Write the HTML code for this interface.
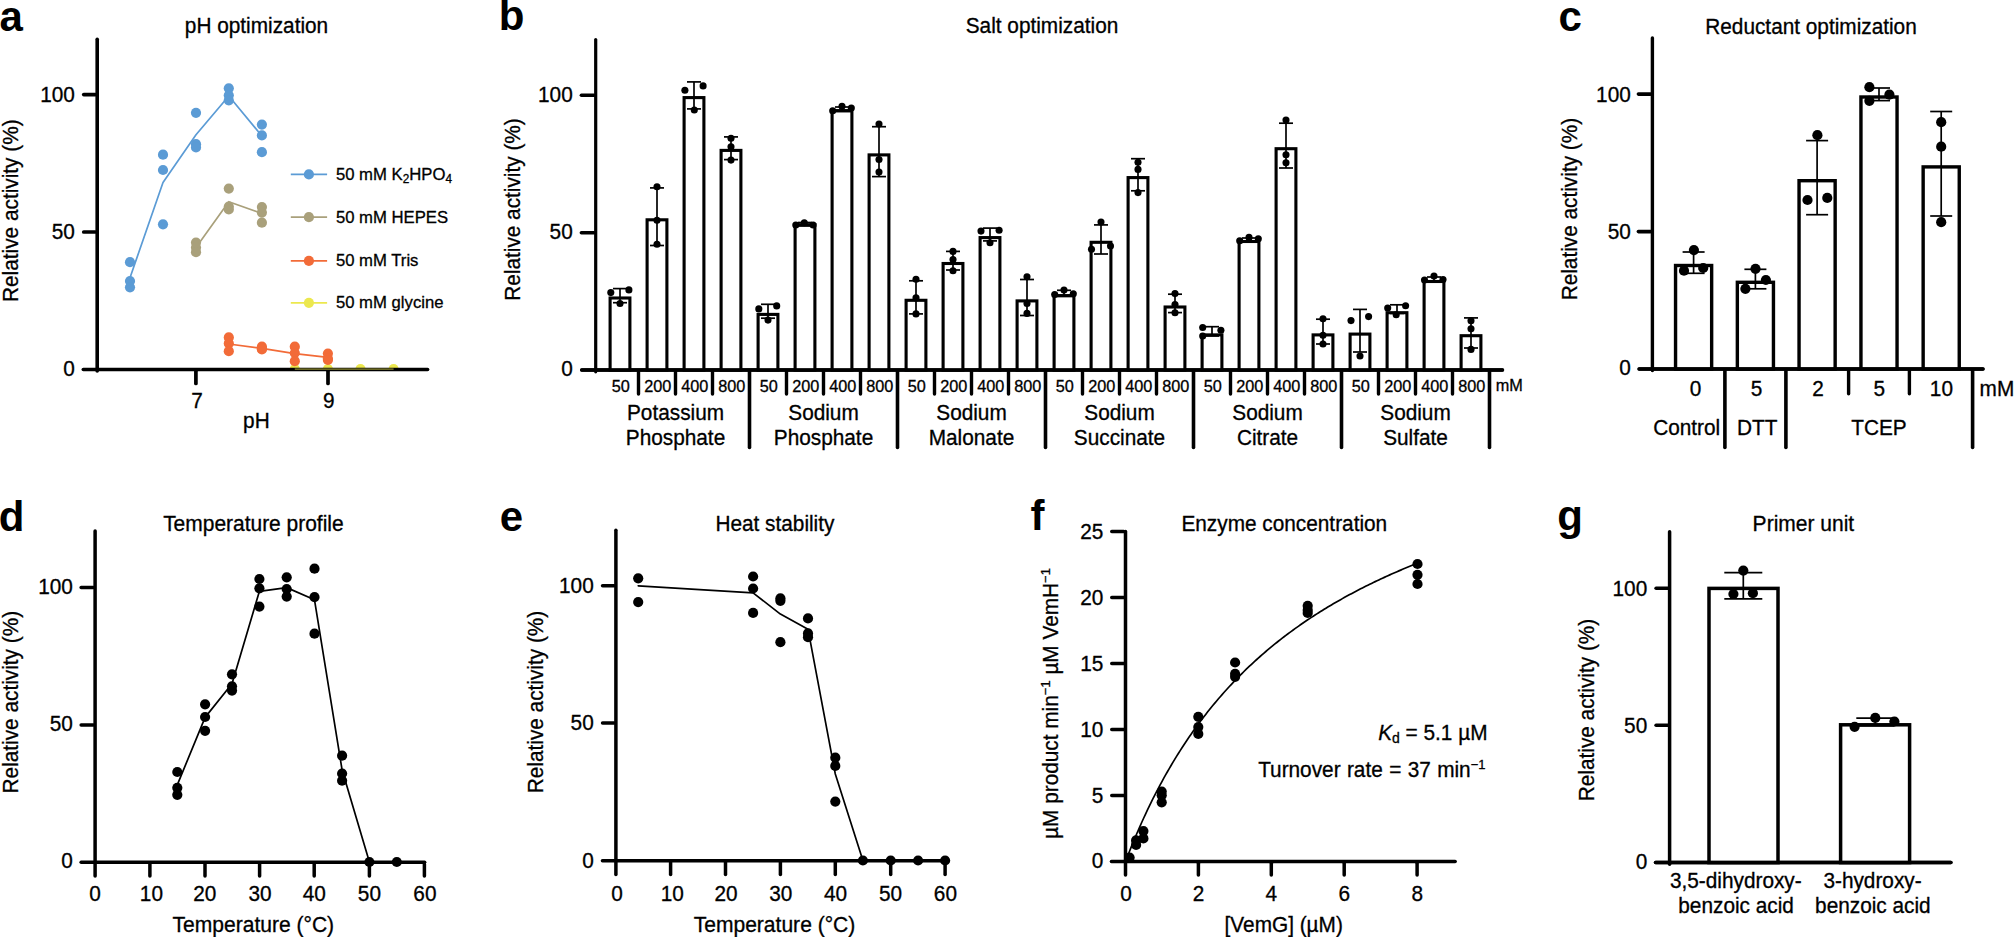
<!DOCTYPE html>
<html lang="en">
<head>
<meta charset="utf-8">
<title>Enzyme assay optimization</title>
<style>
html,body{margin:0;padding:0;background:#fff;}
body{width:2014px;height:937px;overflow:hidden;}
svg{display:block;}
svg text{font-family:"Liberation Sans",sans-serif;fill:#000;stroke:#000;stroke-width:0.3px;}
svg text.pl{stroke-width:0;}
</style>
</head>
<body>
<svg width="2014" height="937" viewBox="0 0 2014 937">
<rect width="2014" height="937" fill="#fff"/>
<g id="pa">
<clipPath id="cpa"><rect x="90" y="30" width="345" height="339.5"/></clipPath><g clip-path="url(#cpa)">
<polyline points="294.80,369.00 393.60,369.00" fill="none" stroke="#ece84e" stroke-width="1.7" stroke-linejoin="round" stroke-linecap="round"/>
<circle cx="294.80" cy="369.20" r="5.1" fill="#ece84e"/>
<circle cx="327.90" cy="369.20" r="5.1" fill="#ece84e"/>
<circle cx="360.50" cy="369.20" r="5.1" fill="#ece84e"/>
<circle cx="393.60" cy="369.20" r="5.1" fill="#ece84e"/>
</g>
<line x1="97.20" y1="39.30" x2="97.20" y2="371.00" stroke="#000" stroke-width="3.6" stroke-linecap="round"/>
<line x1="83.30" y1="369.50" x2="427.60" y2="369.50" stroke="#000" stroke-width="3.6" stroke-linecap="round"/>
<line x1="83.75" y1="94.60" x2="95.35" y2="94.60" stroke="#000" stroke-width="3.7" stroke-linecap="round"/>
<line x1="83.75" y1="232.00" x2="95.35" y2="232.00" stroke="#000" stroke-width="3.7" stroke-linecap="round"/>
<line x1="195.90" y1="371.35" x2="195.90" y2="383.45" stroke="#000" stroke-width="3.7" stroke-linecap="round"/>
<line x1="328.00" y1="371.35" x2="328.00" y2="383.45" stroke="#000" stroke-width="3.7" stroke-linecap="round"/>
<line x1="294.80" y1="369.20" x2="393.60" y2="369.20" stroke="#8c8a30" stroke-width="1.3" stroke-linecap="butt"/>
<text transform="translate(74.90,101.60) scale(1,1.02)" text-anchor="end" font-size="20.8">100</text>
<text transform="translate(74.90,239.00) scale(1,1.02)" text-anchor="end" font-size="20.8">50</text>
<text transform="translate(74.90,376.00) scale(1,1.02)" text-anchor="end" font-size="20.8">0</text>
<text transform="translate(197.00,407.70) scale(1,1.02)" text-anchor="middle" font-size="20.8">7</text>
<text transform="translate(328.90,407.70) scale(1,1.02)" text-anchor="middle" font-size="20.8">9</text>
<text transform="translate(256.40,427.80) scale(1,1.02)" text-anchor="middle" font-size="20.8">pH</text>
<text transform="translate(256.50,33.40) scale(1,1.02)" text-anchor="middle" font-size="20.8">pH optimization</text>
<text transform="translate(18.20,210.70) rotate(-90) scale(1,1.02)" text-anchor="middle" font-size="20.8">Relative activity (%)</text>
<text x="-0.60" y="30.60" font-size="42" font-weight="bold" class="pl">a</text>
<polyline points="130.00,277.70 163.00,182.50 196.00,134.80 228.80,96.00 261.90,136.00" fill="none" stroke="#5b9bd5" stroke-width="1.7" stroke-linejoin="round" stroke-linecap="round"/>
<circle cx="130.00" cy="262.20" r="5.1" fill="#5b9bd5"/>
<circle cx="130.00" cy="281.00" r="5.1" fill="#5b9bd5"/>
<circle cx="130.00" cy="287.30" r="5.1" fill="#5b9bd5"/>
<circle cx="163.00" cy="224.30" r="5.1" fill="#5b9bd5"/>
<circle cx="163.00" cy="154.70" r="5.1" fill="#5b9bd5"/>
<circle cx="163.00" cy="170.00" r="5.1" fill="#5b9bd5"/>
<circle cx="196.00" cy="112.80" r="5.1" fill="#5b9bd5"/>
<circle cx="196.00" cy="144.20" r="5.1" fill="#5b9bd5"/>
<circle cx="196.00" cy="147.40" r="5.1" fill="#5b9bd5"/>
<circle cx="228.80" cy="88.30" r="5.1" fill="#5b9bd5"/>
<circle cx="228.80" cy="95.30" r="5.1" fill="#5b9bd5"/>
<circle cx="228.80" cy="100.30" r="5.1" fill="#5b9bd5"/>
<circle cx="261.90" cy="124.60" r="5.1" fill="#5b9bd5"/>
<circle cx="261.90" cy="135.40" r="5.1" fill="#5b9bd5"/>
<circle cx="261.90" cy="152.20" r="5.1" fill="#5b9bd5"/>
<polyline points="196.00,247.50 228.80,201.70 261.90,213.50" fill="none" stroke="#a9a07b" stroke-width="1.7" stroke-linejoin="round" stroke-linecap="round"/>
<circle cx="196.00" cy="242.60" r="5.1" fill="#a9a07b"/>
<circle cx="196.00" cy="247.60" r="5.1" fill="#a9a07b"/>
<circle cx="196.00" cy="252.20" r="5.1" fill="#a9a07b"/>
<circle cx="228.80" cy="188.60" r="5.1" fill="#a9a07b"/>
<circle cx="228.80" cy="206.50" r="5.1" fill="#a9a07b"/>
<circle cx="228.80" cy="209.50" r="5.1" fill="#a9a07b"/>
<circle cx="261.90" cy="207.10" r="5.1" fill="#a9a07b"/>
<circle cx="261.90" cy="212.60" r="5.1" fill="#a9a07b"/>
<circle cx="261.90" cy="222.70" r="5.1" fill="#a9a07b"/>
<polyline points="228.80,344.00 261.90,348.30 294.80,353.60 327.90,357.30" fill="none" stroke="#f26b38" stroke-width="1.7" stroke-linejoin="round" stroke-linecap="round"/>
<circle cx="228.80" cy="337.40" r="5.1" fill="#f26b38"/>
<circle cx="228.80" cy="343.40" r="5.1" fill="#f26b38"/>
<circle cx="228.80" cy="351.20" r="5.1" fill="#f26b38"/>
<circle cx="261.90" cy="346.70" r="5.1" fill="#f26b38"/>
<circle cx="261.90" cy="348.70" r="5.1" fill="#f26b38"/>
<circle cx="261.90" cy="349.50" r="5.1" fill="#f26b38"/>
<circle cx="294.80" cy="346.70" r="5.1" fill="#f26b38"/>
<circle cx="294.80" cy="353.00" r="5.1" fill="#f26b38"/>
<circle cx="294.80" cy="361.20" r="5.1" fill="#f26b38"/>
<circle cx="327.90" cy="353.50" r="5.1" fill="#f26b38"/>
<circle cx="327.90" cy="358.50" r="5.1" fill="#f26b38"/>
<circle cx="327.90" cy="360.00" r="5.1" fill="#f26b38"/>
<line x1="290.80" y1="174.40" x2="327.10" y2="174.40" stroke="#5b9bd5" stroke-width="1.7" stroke-linecap="butt"/>
<circle cx="308.90" cy="174.40" r="5.1" fill="#5b9bd5"/>
<text transform="translate(335.90,179.70) scale(1,1.02)" text-anchor="start" font-size="16.7">50 mM K<tspan font-size="11.8" dy="3.6">2</tspan><tspan dy="-3.6">HPO</tspan><tspan font-size="11.8" dy="3.6">4</tspan></text>
<line x1="290.80" y1="217.20" x2="327.10" y2="217.20" stroke="#a9a07b" stroke-width="1.7" stroke-linecap="butt"/>
<circle cx="308.90" cy="217.20" r="5.1" fill="#a9a07b"/>
<text transform="translate(335.90,222.50) scale(1,1.02)" text-anchor="start" font-size="16.7">50 mM HEPES</text>
<line x1="290.80" y1="260.90" x2="327.10" y2="260.90" stroke="#f26b38" stroke-width="1.7" stroke-linecap="butt"/>
<circle cx="308.90" cy="260.90" r="5.1" fill="#f26b38"/>
<text transform="translate(335.90,266.20) scale(1,1.02)" text-anchor="start" font-size="16.7">50 mM Tris</text>
<line x1="290.80" y1="302.80" x2="327.10" y2="302.80" stroke="#ece84e" stroke-width="1.7" stroke-linecap="butt"/>
<circle cx="308.90" cy="302.80" r="5.1" fill="#ece84e"/>
<text transform="translate(335.90,308.10) scale(1,1.02)" text-anchor="start" font-size="16.7">50 mM glycine</text>
</g>
<g id="pb">
<line x1="595.70" y1="39.50" x2="595.70" y2="371.80" stroke="#000" stroke-width="3.2" stroke-linecap="round"/>
<line x1="581.75" y1="370.10" x2="1502.45" y2="370.10" stroke="#000" stroke-width="3.5" stroke-linecap="round"/>
<line x1="581.40" y1="95.20" x2="593.90" y2="95.20" stroke="#000" stroke-width="3.6" stroke-linecap="round"/>
<line x1="581.40" y1="232.70" x2="593.90" y2="232.70" stroke="#000" stroke-width="3.6" stroke-linecap="round"/>
<text transform="translate(572.70,101.50) scale(1,1.02)" text-anchor="end" font-size="20.8">100</text>
<text transform="translate(572.70,239.00) scale(1,1.02)" text-anchor="end" font-size="20.8">50</text>
<text transform="translate(572.70,375.90) scale(1,1.02)" text-anchor="end" font-size="20.8">0</text>
<text transform="translate(1042.00,32.90) scale(1,1.02)" text-anchor="middle" font-size="20.8">Salt optimization</text>
<text transform="translate(519.90,209.50) rotate(-90) scale(1,1.02)" text-anchor="middle" font-size="20.8">Relative activity (%)</text>
<text x="498.80" y="30.00" font-size="42" font-weight="bold" class="pl">b</text>
<rect x="610.10" y="298.00" width="19.8" height="72.10" fill="#fff" stroke="#000" stroke-width="3.1"/>
<rect x="647.10" y="219.80" width="19.8" height="150.30" fill="#fff" stroke="#000" stroke-width="3.1"/>
<rect x="684.10" y="97.60" width="19.8" height="272.50" fill="#fff" stroke="#000" stroke-width="3.1"/>
<rect x="721.10" y="150.40" width="19.8" height="219.70" fill="#fff" stroke="#000" stroke-width="3.1"/>
<rect x="758.10" y="314.40" width="19.8" height="55.70" fill="#fff" stroke="#000" stroke-width="3.1"/>
<rect x="795.10" y="224.70" width="19.8" height="145.40" fill="#fff" stroke="#000" stroke-width="3.1"/>
<rect x="832.10" y="110.90" width="19.8" height="259.20" fill="#fff" stroke="#000" stroke-width="3.1"/>
<rect x="869.10" y="154.90" width="19.8" height="215.20" fill="#fff" stroke="#000" stroke-width="3.1"/>
<rect x="906.10" y="300.30" width="19.8" height="69.80" fill="#fff" stroke="#000" stroke-width="3.1"/>
<rect x="943.10" y="263.50" width="19.8" height="106.60" fill="#fff" stroke="#000" stroke-width="3.1"/>
<rect x="980.10" y="237.60" width="19.8" height="132.50" fill="#fff" stroke="#000" stroke-width="3.1"/>
<rect x="1017.10" y="300.90" width="19.8" height="69.20" fill="#fff" stroke="#000" stroke-width="3.1"/>
<rect x="1054.10" y="295.80" width="19.8" height="74.30" fill="#fff" stroke="#000" stroke-width="3.1"/>
<rect x="1091.10" y="242.30" width="19.8" height="127.80" fill="#fff" stroke="#000" stroke-width="3.1"/>
<rect x="1128.10" y="177.60" width="19.8" height="192.50" fill="#fff" stroke="#000" stroke-width="3.1"/>
<rect x="1165.10" y="307.00" width="19.8" height="63.10" fill="#fff" stroke="#000" stroke-width="3.1"/>
<rect x="1202.10" y="334.90" width="19.8" height="35.20" fill="#fff" stroke="#000" stroke-width="3.1"/>
<rect x="1239.10" y="241.50" width="19.8" height="128.60" fill="#fff" stroke="#000" stroke-width="3.1"/>
<rect x="1276.10" y="148.70" width="19.8" height="221.40" fill="#fff" stroke="#000" stroke-width="3.1"/>
<rect x="1313.10" y="334.90" width="19.8" height="35.20" fill="#fff" stroke="#000" stroke-width="3.1"/>
<rect x="1350.10" y="334.10" width="19.8" height="36.00" fill="#fff" stroke="#000" stroke-width="3.1"/>
<rect x="1387.10" y="312.70" width="19.8" height="57.40" fill="#fff" stroke="#000" stroke-width="3.1"/>
<rect x="1424.10" y="281.50" width="19.8" height="88.60" fill="#fff" stroke="#000" stroke-width="3.1"/>
<rect x="1461.10" y="335.70" width="19.8" height="34.40" fill="#fff" stroke="#000" stroke-width="3.1"/>
<line x1="620.00" y1="288.60" x2="620.00" y2="302.70" stroke="#000" stroke-width="1.7" stroke-linecap="butt"/>
<line x1="613.00" y1="288.60" x2="627.00" y2="288.60" stroke="#000" stroke-width="1.7" stroke-linecap="butt"/>
<line x1="613.00" y1="302.70" x2="627.00" y2="302.70" stroke="#000" stroke-width="1.7" stroke-linecap="butt"/>
<circle cx="610.80" cy="292.60" r="3.55" fill="#000"/>
<circle cx="628.90" cy="289.90" r="3.55" fill="#000"/>
<circle cx="620.00" cy="303.50" r="3.55" fill="#000"/>
<text transform="translate(620.80,391.60) scale(1,0.98)" text-anchor="middle" font-size="16.3">50</text>
<line x1="638.50" y1="371.80" x2="638.50" y2="394.00" stroke="#000" stroke-width="3.4" stroke-linecap="round"/>
<line x1="657.00" y1="187.90" x2="657.00" y2="245.50" stroke="#000" stroke-width="1.7" stroke-linecap="butt"/>
<line x1="650.00" y1="187.90" x2="664.00" y2="187.90" stroke="#000" stroke-width="1.7" stroke-linecap="butt"/>
<line x1="650.00" y1="245.50" x2="664.00" y2="245.50" stroke="#000" stroke-width="1.7" stroke-linecap="butt"/>
<circle cx="657.00" cy="186.80" r="3.55" fill="#000"/>
<circle cx="657.00" cy="220.20" r="3.55" fill="#000"/>
<circle cx="657.00" cy="244.20" r="3.55" fill="#000"/>
<text transform="translate(657.80,391.60) scale(1,0.98)" text-anchor="middle" font-size="16.3">200</text>
<line x1="675.50" y1="371.80" x2="675.50" y2="394.00" stroke="#000" stroke-width="3.4" stroke-linecap="round"/>
<line x1="694.00" y1="81.90" x2="694.00" y2="108.90" stroke="#000" stroke-width="1.7" stroke-linecap="butt"/>
<line x1="687.00" y1="81.90" x2="701.00" y2="81.90" stroke="#000" stroke-width="1.7" stroke-linecap="butt"/>
<line x1="687.00" y1="108.90" x2="701.00" y2="108.90" stroke="#000" stroke-width="1.7" stroke-linecap="butt"/>
<circle cx="684.90" cy="90.20" r="3.55" fill="#000"/>
<circle cx="703.10" cy="85.90" r="3.55" fill="#000"/>
<circle cx="694.30" cy="110.00" r="3.55" fill="#000"/>
<text transform="translate(694.80,391.60) scale(1,0.98)" text-anchor="middle" font-size="16.3">400</text>
<line x1="712.50" y1="371.80" x2="712.50" y2="394.00" stroke="#000" stroke-width="3.4" stroke-linecap="round"/>
<line x1="731.00" y1="136.90" x2="731.00" y2="159.60" stroke="#000" stroke-width="1.7" stroke-linecap="butt"/>
<line x1="724.00" y1="136.90" x2="738.00" y2="136.90" stroke="#000" stroke-width="1.7" stroke-linecap="butt"/>
<line x1="724.00" y1="159.60" x2="738.00" y2="159.60" stroke="#000" stroke-width="1.7" stroke-linecap="butt"/>
<circle cx="731.00" cy="138.20" r="3.55" fill="#000"/>
<circle cx="731.00" cy="146.80" r="3.55" fill="#000"/>
<circle cx="731.00" cy="160.10" r="3.55" fill="#000"/>
<text transform="translate(731.80,391.60) scale(1,0.98)" text-anchor="middle" font-size="16.3">800</text>
<line x1="749.50" y1="371.90" x2="749.50" y2="447.50" stroke="#000" stroke-width="3.6" stroke-linecap="round"/>
<line x1="768.00" y1="304.30" x2="768.00" y2="318.20" stroke="#000" stroke-width="1.7" stroke-linecap="butt"/>
<line x1="761.00" y1="304.30" x2="775.00" y2="304.30" stroke="#000" stroke-width="1.7" stroke-linecap="butt"/>
<line x1="761.00" y1="318.20" x2="775.00" y2="318.20" stroke="#000" stroke-width="1.7" stroke-linecap="butt"/>
<circle cx="758.80" cy="308.90" r="3.55" fill="#000"/>
<circle cx="776.70" cy="305.90" r="3.55" fill="#000"/>
<circle cx="768.00" cy="320.10" r="3.55" fill="#000"/>
<text transform="translate(768.80,391.60) scale(1,0.98)" text-anchor="middle" font-size="16.3">50</text>
<line x1="786.50" y1="371.80" x2="786.50" y2="394.00" stroke="#000" stroke-width="3.4" stroke-linecap="round"/>
<line x1="805.00" y1="222.50" x2="805.00" y2="226.00" stroke="#000" stroke-width="1.7" stroke-linecap="butt"/>
<line x1="798.00" y1="222.50" x2="812.00" y2="222.50" stroke="#000" stroke-width="1.7" stroke-linecap="butt"/>
<line x1="798.00" y1="226.00" x2="812.00" y2="226.00" stroke="#000" stroke-width="1.7" stroke-linecap="butt"/>
<circle cx="795.80" cy="225.00" r="3.55" fill="#000"/>
<circle cx="804.30" cy="222.80" r="3.55" fill="#000"/>
<circle cx="813.10" cy="225.00" r="3.55" fill="#000"/>
<text transform="translate(805.80,391.60) scale(1,0.98)" text-anchor="middle" font-size="16.3">200</text>
<line x1="823.50" y1="371.80" x2="823.50" y2="394.00" stroke="#000" stroke-width="3.4" stroke-linecap="round"/>
<line x1="842.00" y1="107.00" x2="842.00" y2="110.00" stroke="#000" stroke-width="1.7" stroke-linecap="butt"/>
<line x1="835.00" y1="107.00" x2="849.00" y2="107.00" stroke="#000" stroke-width="1.7" stroke-linecap="butt"/>
<line x1="835.00" y1="110.00" x2="849.00" y2="110.00" stroke="#000" stroke-width="1.7" stroke-linecap="butt"/>
<circle cx="832.70" cy="110.70" r="3.55" fill="#000"/>
<circle cx="842.00" cy="106.20" r="3.55" fill="#000"/>
<circle cx="851.30" cy="108.00" r="3.55" fill="#000"/>
<text transform="translate(842.80,391.60) scale(1,0.98)" text-anchor="middle" font-size="16.3">400</text>
<line x1="860.50" y1="371.80" x2="860.50" y2="394.00" stroke="#000" stroke-width="3.4" stroke-linecap="round"/>
<line x1="879.00" y1="126.70" x2="879.00" y2="176.60" stroke="#000" stroke-width="1.7" stroke-linecap="butt"/>
<line x1="872.00" y1="126.70" x2="886.00" y2="126.70" stroke="#000" stroke-width="1.7" stroke-linecap="butt"/>
<line x1="872.00" y1="176.60" x2="886.00" y2="176.60" stroke="#000" stroke-width="1.7" stroke-linecap="butt"/>
<circle cx="879.00" cy="124.00" r="3.55" fill="#000"/>
<circle cx="879.00" cy="159.50" r="3.55" fill="#000"/>
<circle cx="879.00" cy="172.10" r="3.55" fill="#000"/>
<text transform="translate(879.80,391.60) scale(1,0.98)" text-anchor="middle" font-size="16.3">800</text>
<line x1="897.50" y1="371.90" x2="897.50" y2="447.50" stroke="#000" stroke-width="3.6" stroke-linecap="round"/>
<line x1="916.00" y1="280.80" x2="916.00" y2="313.90" stroke="#000" stroke-width="1.7" stroke-linecap="butt"/>
<line x1="909.00" y1="280.80" x2="923.00" y2="280.80" stroke="#000" stroke-width="1.7" stroke-linecap="butt"/>
<line x1="909.00" y1="313.90" x2="923.00" y2="313.90" stroke="#000" stroke-width="1.7" stroke-linecap="butt"/>
<circle cx="916.00" cy="279.20" r="3.55" fill="#000"/>
<circle cx="916.00" cy="297.90" r="3.55" fill="#000"/>
<circle cx="916.00" cy="313.90" r="3.55" fill="#000"/>
<text transform="translate(916.80,391.60) scale(1,0.98)" text-anchor="middle" font-size="16.3">50</text>
<line x1="934.50" y1="371.80" x2="934.50" y2="394.00" stroke="#000" stroke-width="3.4" stroke-linecap="round"/>
<line x1="953.00" y1="251.40" x2="953.00" y2="270.00" stroke="#000" stroke-width="1.7" stroke-linecap="butt"/>
<line x1="946.00" y1="251.40" x2="960.00" y2="251.40" stroke="#000" stroke-width="1.7" stroke-linecap="butt"/>
<line x1="946.00" y1="270.00" x2="960.00" y2="270.00" stroke="#000" stroke-width="1.7" stroke-linecap="butt"/>
<circle cx="953.00" cy="251.40" r="3.55" fill="#000"/>
<circle cx="953.00" cy="259.60" r="3.55" fill="#000"/>
<circle cx="953.00" cy="270.80" r="3.55" fill="#000"/>
<text transform="translate(953.80,391.60) scale(1,0.98)" text-anchor="middle" font-size="16.3">200</text>
<line x1="971.50" y1="371.80" x2="971.50" y2="394.00" stroke="#000" stroke-width="3.4" stroke-linecap="round"/>
<line x1="990.00" y1="228.10" x2="990.00" y2="240.90" stroke="#000" stroke-width="1.7" stroke-linecap="butt"/>
<line x1="983.00" y1="228.10" x2="997.00" y2="228.10" stroke="#000" stroke-width="1.7" stroke-linecap="butt"/>
<line x1="983.00" y1="240.90" x2="997.00" y2="240.90" stroke="#000" stroke-width="1.7" stroke-linecap="butt"/>
<circle cx="981.00" cy="231.10" r="3.55" fill="#000"/>
<circle cx="999.10" cy="230.30" r="3.55" fill="#000"/>
<circle cx="990.00" cy="242.80" r="3.55" fill="#000"/>
<text transform="translate(990.80,391.60) scale(1,0.98)" text-anchor="middle" font-size="16.3">400</text>
<line x1="1008.50" y1="371.80" x2="1008.50" y2="394.00" stroke="#000" stroke-width="3.4" stroke-linecap="round"/>
<line x1="1027.00" y1="279.50" x2="1027.00" y2="315.50" stroke="#000" stroke-width="1.7" stroke-linecap="butt"/>
<line x1="1020.00" y1="279.50" x2="1034.00" y2="279.50" stroke="#000" stroke-width="1.7" stroke-linecap="butt"/>
<line x1="1020.00" y1="315.50" x2="1034.00" y2="315.50" stroke="#000" stroke-width="1.7" stroke-linecap="butt"/>
<circle cx="1027.00" cy="276.80" r="3.55" fill="#000"/>
<circle cx="1027.00" cy="303.50" r="3.55" fill="#000"/>
<circle cx="1027.00" cy="313.40" r="3.55" fill="#000"/>
<text transform="translate(1027.80,391.60) scale(1,0.98)" text-anchor="middle" font-size="16.3">800</text>
<line x1="1045.50" y1="371.90" x2="1045.50" y2="447.50" stroke="#000" stroke-width="3.6" stroke-linecap="round"/>
<line x1="1064.00" y1="290.30" x2="1064.00" y2="295.00" stroke="#000" stroke-width="1.7" stroke-linecap="butt"/>
<line x1="1057.00" y1="290.30" x2="1071.00" y2="290.30" stroke="#000" stroke-width="1.7" stroke-linecap="butt"/>
<line x1="1057.00" y1="295.00" x2="1071.00" y2="295.00" stroke="#000" stroke-width="1.7" stroke-linecap="butt"/>
<circle cx="1054.70" cy="294.50" r="3.55" fill="#000"/>
<circle cx="1064.00" cy="290.10" r="3.55" fill="#000"/>
<circle cx="1073.30" cy="293.70" r="3.55" fill="#000"/>
<text transform="translate(1064.80,391.60) scale(1,0.98)" text-anchor="middle" font-size="16.3">50</text>
<line x1="1082.50" y1="371.80" x2="1082.50" y2="394.00" stroke="#000" stroke-width="3.4" stroke-linecap="round"/>
<line x1="1101.00" y1="224.90" x2="1101.00" y2="254.00" stroke="#000" stroke-width="1.7" stroke-linecap="butt"/>
<line x1="1094.00" y1="224.90" x2="1108.00" y2="224.90" stroke="#000" stroke-width="1.7" stroke-linecap="butt"/>
<line x1="1094.00" y1="254.00" x2="1108.00" y2="254.00" stroke="#000" stroke-width="1.7" stroke-linecap="butt"/>
<circle cx="1101.00" cy="222.00" r="3.55" fill="#000"/>
<circle cx="1091.50" cy="249.20" r="3.55" fill="#000"/>
<circle cx="1110.50" cy="246.00" r="3.55" fill="#000"/>
<text transform="translate(1101.80,391.60) scale(1,0.98)" text-anchor="middle" font-size="16.3">200</text>
<line x1="1119.50" y1="371.80" x2="1119.50" y2="394.00" stroke="#000" stroke-width="3.4" stroke-linecap="round"/>
<line x1="1138.00" y1="158.70" x2="1138.00" y2="190.80" stroke="#000" stroke-width="1.7" stroke-linecap="butt"/>
<line x1="1131.00" y1="158.70" x2="1145.00" y2="158.70" stroke="#000" stroke-width="1.7" stroke-linecap="butt"/>
<line x1="1131.00" y1="190.80" x2="1145.00" y2="190.80" stroke="#000" stroke-width="1.7" stroke-linecap="butt"/>
<circle cx="1138.00" cy="162.20" r="3.55" fill="#000"/>
<circle cx="1138.00" cy="169.40" r="3.55" fill="#000"/>
<circle cx="1138.00" cy="192.60" r="3.55" fill="#000"/>
<text transform="translate(1138.80,391.60) scale(1,0.98)" text-anchor="middle" font-size="16.3">400</text>
<line x1="1156.50" y1="371.80" x2="1156.50" y2="394.00" stroke="#000" stroke-width="3.4" stroke-linecap="round"/>
<line x1="1175.00" y1="294.20" x2="1175.00" y2="312.60" stroke="#000" stroke-width="1.7" stroke-linecap="butt"/>
<line x1="1168.00" y1="294.20" x2="1182.00" y2="294.20" stroke="#000" stroke-width="1.7" stroke-linecap="butt"/>
<line x1="1168.00" y1="312.60" x2="1182.00" y2="312.60" stroke="#000" stroke-width="1.7" stroke-linecap="butt"/>
<circle cx="1175.00" cy="293.60" r="3.55" fill="#000"/>
<circle cx="1175.00" cy="304.50" r="3.55" fill="#000"/>
<circle cx="1175.00" cy="312.80" r="3.55" fill="#000"/>
<text transform="translate(1175.80,391.60) scale(1,0.98)" text-anchor="middle" font-size="16.3">800</text>
<line x1="1193.50" y1="371.90" x2="1193.50" y2="447.50" stroke="#000" stroke-width="3.6" stroke-linecap="round"/>
<line x1="1212.00" y1="326.70" x2="1212.00" y2="336.00" stroke="#000" stroke-width="1.7" stroke-linecap="butt"/>
<line x1="1205.00" y1="326.70" x2="1219.00" y2="326.70" stroke="#000" stroke-width="1.7" stroke-linecap="butt"/>
<line x1="1205.00" y1="336.00" x2="1219.00" y2="336.00" stroke="#000" stroke-width="1.7" stroke-linecap="butt"/>
<circle cx="1202.70" cy="327.50" r="3.55" fill="#000"/>
<circle cx="1220.90" cy="330.20" r="3.55" fill="#000"/>
<circle cx="1202.70" cy="336.00" r="3.55" fill="#000"/>
<text transform="translate(1212.80,391.60) scale(1,0.98)" text-anchor="middle" font-size="16.3">50</text>
<line x1="1230.50" y1="371.80" x2="1230.50" y2="394.00" stroke="#000" stroke-width="3.4" stroke-linecap="round"/>
<line x1="1249.00" y1="238.00" x2="1249.00" y2="241.00" stroke="#000" stroke-width="1.7" stroke-linecap="butt"/>
<line x1="1242.00" y1="238.00" x2="1256.00" y2="238.00" stroke="#000" stroke-width="1.7" stroke-linecap="butt"/>
<line x1="1242.00" y1="241.00" x2="1256.00" y2="241.00" stroke="#000" stroke-width="1.7" stroke-linecap="butt"/>
<circle cx="1239.70" cy="240.80" r="3.55" fill="#000"/>
<circle cx="1249.00" cy="237.40" r="3.55" fill="#000"/>
<circle cx="1258.30" cy="238.70" r="3.55" fill="#000"/>
<text transform="translate(1249.80,391.60) scale(1,0.98)" text-anchor="middle" font-size="16.3">200</text>
<line x1="1267.50" y1="371.80" x2="1267.50" y2="394.00" stroke="#000" stroke-width="3.4" stroke-linecap="round"/>
<line x1="1286.00" y1="123.20" x2="1286.00" y2="168.00" stroke="#000" stroke-width="1.7" stroke-linecap="butt"/>
<line x1="1279.00" y1="123.20" x2="1293.00" y2="123.20" stroke="#000" stroke-width="1.7" stroke-linecap="butt"/>
<line x1="1279.00" y1="168.00" x2="1293.00" y2="168.00" stroke="#000" stroke-width="1.7" stroke-linecap="butt"/>
<circle cx="1286.00" cy="120.00" r="3.55" fill="#000"/>
<circle cx="1286.00" cy="154.70" r="3.55" fill="#000"/>
<circle cx="1286.00" cy="162.70" r="3.55" fill="#000"/>
<text transform="translate(1286.80,391.60) scale(1,0.98)" text-anchor="middle" font-size="16.3">400</text>
<line x1="1304.50" y1="371.80" x2="1304.50" y2="394.00" stroke="#000" stroke-width="3.4" stroke-linecap="round"/>
<line x1="1323.00" y1="319.20" x2="1323.00" y2="344.00" stroke="#000" stroke-width="1.7" stroke-linecap="butt"/>
<line x1="1316.00" y1="319.20" x2="1330.00" y2="319.20" stroke="#000" stroke-width="1.7" stroke-linecap="butt"/>
<line x1="1316.00" y1="344.00" x2="1330.00" y2="344.00" stroke="#000" stroke-width="1.7" stroke-linecap="butt"/>
<circle cx="1323.00" cy="318.70" r="3.55" fill="#000"/>
<circle cx="1323.00" cy="335.20" r="3.55" fill="#000"/>
<circle cx="1323.00" cy="344.00" r="3.55" fill="#000"/>
<text transform="translate(1323.80,391.60) scale(1,0.98)" text-anchor="middle" font-size="16.3">800</text>
<line x1="1341.50" y1="371.90" x2="1341.50" y2="447.50" stroke="#000" stroke-width="3.6" stroke-linecap="round"/>
<line x1="1360.00" y1="309.40" x2="1360.00" y2="352.00" stroke="#000" stroke-width="1.7" stroke-linecap="butt"/>
<line x1="1353.00" y1="309.40" x2="1367.00" y2="309.40" stroke="#000" stroke-width="1.7" stroke-linecap="butt"/>
<line x1="1353.00" y1="352.00" x2="1367.00" y2="352.00" stroke="#000" stroke-width="1.7" stroke-linecap="butt"/>
<circle cx="1351.00" cy="320.60" r="3.55" fill="#000"/>
<circle cx="1368.60" cy="316.60" r="3.55" fill="#000"/>
<circle cx="1360.00" cy="356.00" r="3.55" fill="#000"/>
<text transform="translate(1360.80,391.60) scale(1,0.98)" text-anchor="middle" font-size="16.3">50</text>
<line x1="1378.50" y1="371.80" x2="1378.50" y2="394.00" stroke="#000" stroke-width="3.4" stroke-linecap="round"/>
<line x1="1397.00" y1="304.80" x2="1397.00" y2="313.40" stroke="#000" stroke-width="1.7" stroke-linecap="butt"/>
<line x1="1390.00" y1="304.80" x2="1404.00" y2="304.80" stroke="#000" stroke-width="1.7" stroke-linecap="butt"/>
<line x1="1390.00" y1="313.40" x2="1404.00" y2="313.40" stroke="#000" stroke-width="1.7" stroke-linecap="butt"/>
<circle cx="1387.70" cy="308.00" r="3.55" fill="#000"/>
<circle cx="1405.60" cy="305.70" r="3.55" fill="#000"/>
<circle cx="1396.20" cy="314.70" r="3.55" fill="#000"/>
<text transform="translate(1397.80,391.60) scale(1,0.98)" text-anchor="middle" font-size="16.3">200</text>
<line x1="1415.50" y1="371.80" x2="1415.50" y2="394.00" stroke="#000" stroke-width="3.4" stroke-linecap="round"/>
<line x1="1434.00" y1="277.00" x2="1434.00" y2="281.00" stroke="#000" stroke-width="1.7" stroke-linecap="butt"/>
<line x1="1427.00" y1="277.00" x2="1441.00" y2="277.00" stroke="#000" stroke-width="1.7" stroke-linecap="butt"/>
<line x1="1427.00" y1="281.00" x2="1441.00" y2="281.00" stroke="#000" stroke-width="1.7" stroke-linecap="butt"/>
<circle cx="1424.50" cy="280.00" r="3.55" fill="#000"/>
<circle cx="1434.00" cy="276.00" r="3.55" fill="#000"/>
<circle cx="1443.00" cy="279.50" r="3.55" fill="#000"/>
<text transform="translate(1434.80,391.60) scale(1,0.98)" text-anchor="middle" font-size="16.3">400</text>
<line x1="1452.50" y1="371.80" x2="1452.50" y2="394.00" stroke="#000" stroke-width="3.4" stroke-linecap="round"/>
<line x1="1471.00" y1="317.90" x2="1471.00" y2="348.00" stroke="#000" stroke-width="1.7" stroke-linecap="butt"/>
<line x1="1464.00" y1="317.90" x2="1478.00" y2="317.90" stroke="#000" stroke-width="1.7" stroke-linecap="butt"/>
<line x1="1464.00" y1="348.00" x2="1478.00" y2="348.00" stroke="#000" stroke-width="1.7" stroke-linecap="butt"/>
<circle cx="1471.00" cy="320.80" r="3.55" fill="#000"/>
<circle cx="1471.00" cy="328.80" r="3.55" fill="#000"/>
<circle cx="1471.00" cy="349.40" r="3.55" fill="#000"/>
<text transform="translate(1471.80,391.60) scale(1,0.98)" text-anchor="middle" font-size="16.3">800</text>
<line x1="1489.50" y1="371.90" x2="1489.50" y2="447.50" stroke="#000" stroke-width="3.6" stroke-linecap="round"/>
<line x1="581.75" y1="370.10" x2="1502.45" y2="370.10" stroke="#000" stroke-width="3.5" stroke-linecap="round"/>
<text transform="translate(1495.80,391.40) scale(1,0.98)" text-anchor="start" font-size="16.3">mM</text>
<text transform="translate(675.50,420.30) scale(1,1.02)" text-anchor="middle" font-size="20.8">Potassium</text>
<text transform="translate(675.50,444.90) scale(1,1.02)" text-anchor="middle" font-size="20.8">Phosphate</text>
<text transform="translate(823.50,420.30) scale(1,1.02)" text-anchor="middle" font-size="20.8">Sodium</text>
<text transform="translate(823.50,444.90) scale(1,1.02)" text-anchor="middle" font-size="20.8">Phosphate</text>
<text transform="translate(971.50,420.30) scale(1,1.02)" text-anchor="middle" font-size="20.8">Sodium</text>
<text transform="translate(971.50,444.90) scale(1,1.02)" text-anchor="middle" font-size="20.8">Malonate</text>
<text transform="translate(1119.50,420.30) scale(1,1.02)" text-anchor="middle" font-size="20.8">Sodium</text>
<text transform="translate(1119.50,444.90) scale(1,1.02)" text-anchor="middle" font-size="20.8">Succinate</text>
<text transform="translate(1267.50,420.30) scale(1,1.02)" text-anchor="middle" font-size="20.8">Sodium</text>
<text transform="translate(1267.50,444.90) scale(1,1.02)" text-anchor="middle" font-size="20.8">Citrate</text>
<text transform="translate(1415.50,420.30) scale(1,1.02)" text-anchor="middle" font-size="20.8">Sodium</text>
<text transform="translate(1415.50,444.90) scale(1,1.02)" text-anchor="middle" font-size="20.8">Sulfate</text>
</g>
<g id="pc">
<line x1="1652.40" y1="38.00" x2="1652.40" y2="370.60" stroke="#000" stroke-width="3.4" stroke-linecap="round"/>
<line x1="1639.15" y1="369.00" x2="1982.95" y2="369.00" stroke="#000" stroke-width="3.5" stroke-linecap="round"/>
<line x1="1638.40" y1="94.10" x2="1650.60" y2="94.10" stroke="#000" stroke-width="3.6" stroke-linecap="round"/>
<line x1="1638.40" y1="231.60" x2="1650.60" y2="231.60" stroke="#000" stroke-width="3.6" stroke-linecap="round"/>
<text transform="translate(1630.80,101.80) scale(1,1.02)" text-anchor="end" font-size="20.8">100</text>
<text transform="translate(1630.80,239.30) scale(1,1.02)" text-anchor="end" font-size="20.8">50</text>
<text transform="translate(1630.80,375.40) scale(1,1.02)" text-anchor="end" font-size="20.8">0</text>
<text transform="translate(1811.00,33.50) scale(1,1.02)" text-anchor="middle" font-size="20.8">Reductant optimization</text>
<text transform="translate(1577.40,209.10) rotate(-90) scale(1,1.02)" text-anchor="middle" font-size="20.8">Relative activity (%)</text>
<text x="1558.40" y="30.90" font-size="42" font-weight="bold" class="pl">c</text>
<rect x="1675.55" y="265.50" width="36.1" height="103.50" fill="#fff" stroke="#000" stroke-width="3.4"/>
<rect x="1737.35" y="282.30" width="36.1" height="86.70" fill="#fff" stroke="#000" stroke-width="3.4"/>
<rect x="1799.05" y="180.70" width="36.1" height="188.30" fill="#fff" stroke="#000" stroke-width="3.4"/>
<rect x="1860.95" y="97.00" width="36.1" height="272.00" fill="#fff" stroke="#000" stroke-width="3.4"/>
<rect x="1923.15" y="166.90" width="36.1" height="202.10" fill="#fff" stroke="#000" stroke-width="3.4"/>
<line x1="1693.60" y1="252.00" x2="1693.60" y2="273.30" stroke="#000" stroke-width="1.7" stroke-linecap="butt"/>
<line x1="1682.60" y1="252.00" x2="1704.60" y2="252.00" stroke="#000" stroke-width="1.7" stroke-linecap="butt"/>
<line x1="1682.60" y1="273.30" x2="1704.60" y2="273.30" stroke="#000" stroke-width="1.7" stroke-linecap="butt"/>
<circle cx="1693.90" cy="250.10" r="5.1" fill="#000"/>
<circle cx="1684.00" cy="270.70" r="5.1" fill="#000"/>
<circle cx="1703.20" cy="268.00" r="5.1" fill="#000"/>
<line x1="1755.40" y1="269.30" x2="1755.40" y2="288.80" stroke="#000" stroke-width="1.7" stroke-linecap="butt"/>
<line x1="1744.40" y1="269.30" x2="1766.40" y2="269.30" stroke="#000" stroke-width="1.7" stroke-linecap="butt"/>
<line x1="1744.40" y1="288.80" x2="1766.40" y2="288.80" stroke="#000" stroke-width="1.7" stroke-linecap="butt"/>
<circle cx="1755.50" cy="268.80" r="5.1" fill="#000"/>
<circle cx="1745.40" cy="288.80" r="5.1" fill="#000"/>
<circle cx="1765.90" cy="280.00" r="5.1" fill="#000"/>
<line x1="1817.10" y1="140.60" x2="1817.10" y2="214.70" stroke="#000" stroke-width="1.7" stroke-linecap="butt"/>
<line x1="1806.10" y1="140.60" x2="1828.10" y2="140.60" stroke="#000" stroke-width="1.7" stroke-linecap="butt"/>
<line x1="1806.10" y1="214.70" x2="1828.10" y2="214.70" stroke="#000" stroke-width="1.7" stroke-linecap="butt"/>
<circle cx="1817.40" cy="135.20" r="5.1" fill="#000"/>
<circle cx="1807.50" cy="200.00" r="5.1" fill="#000"/>
<circle cx="1827.30" cy="197.90" r="5.1" fill="#000"/>
<line x1="1879.00" y1="88.00" x2="1879.00" y2="100.60" stroke="#000" stroke-width="1.7" stroke-linecap="butt"/>
<line x1="1868.00" y1="88.00" x2="1890.00" y2="88.00" stroke="#000" stroke-width="1.7" stroke-linecap="butt"/>
<line x1="1868.00" y1="100.60" x2="1890.00" y2="100.60" stroke="#000" stroke-width="1.7" stroke-linecap="butt"/>
<circle cx="1869.40" cy="87.20" r="5.1" fill="#000"/>
<circle cx="1869.40" cy="100.80" r="5.1" fill="#000"/>
<circle cx="1889.40" cy="94.70" r="5.1" fill="#000"/>
<line x1="1941.20" y1="111.50" x2="1941.20" y2="216.00" stroke="#000" stroke-width="1.7" stroke-linecap="butt"/>
<line x1="1930.20" y1="111.50" x2="1952.20" y2="111.50" stroke="#000" stroke-width="1.7" stroke-linecap="butt"/>
<line x1="1930.20" y1="216.00" x2="1952.20" y2="216.00" stroke="#000" stroke-width="1.7" stroke-linecap="butt"/>
<circle cx="1941.20" cy="122.20" r="5.1" fill="#000"/>
<circle cx="1941.20" cy="146.70" r="5.1" fill="#000"/>
<circle cx="1941.20" cy="222.20" r="5.1" fill="#000"/>
<line x1="1639.15" y1="369.00" x2="1982.95" y2="369.00" stroke="#000" stroke-width="3.5" stroke-linecap="round"/>
<line x1="1724.90" y1="370.80" x2="1724.90" y2="447.50" stroke="#000" stroke-width="3.6" stroke-linecap="round"/>
<line x1="1785.90" y1="370.80" x2="1785.90" y2="447.50" stroke="#000" stroke-width="3.6" stroke-linecap="round"/>
<line x1="1972.60" y1="370.80" x2="1972.60" y2="447.50" stroke="#000" stroke-width="3.6" stroke-linecap="round"/>
<line x1="1848.60" y1="370.70" x2="1848.60" y2="393.70" stroke="#000" stroke-width="3.4" stroke-linecap="round"/>
<line x1="1909.40" y1="370.70" x2="1909.40" y2="393.70" stroke="#000" stroke-width="3.4" stroke-linecap="round"/>
<text transform="translate(1695.60,395.80) scale(1,1.02)" text-anchor="middle" font-size="20.8">0</text>
<text transform="translate(1756.60,395.80) scale(1,1.02)" text-anchor="middle" font-size="20.8">5</text>
<text transform="translate(1818.00,395.80) scale(1,1.02)" text-anchor="middle" font-size="20.8">2</text>
<text transform="translate(1879.30,395.80) scale(1,1.02)" text-anchor="middle" font-size="20.8">5</text>
<text transform="translate(1941.40,395.80) scale(1,1.02)" text-anchor="middle" font-size="20.8">10</text>
<text transform="translate(1979.60,395.80) scale(1,1.02)" text-anchor="start" font-size="20.8">mM</text>
<text transform="translate(1686.70,434.50) scale(1,1.02)" text-anchor="middle" font-size="20.8">Control</text>
<text transform="translate(1757.20,434.50) scale(1,1.02)" text-anchor="middle" font-size="20.8">DTT</text>
<text transform="translate(1879.00,434.50) scale(1,1.02)" text-anchor="middle" font-size="20.8">TCEP</text>
</g>
<g id="pd">
<line x1="95.10" y1="530.95" x2="95.10" y2="876.05" stroke="#000" stroke-width="3.5" stroke-linecap="round"/>
<line x1="81.15" y1="862.20" x2="424.65" y2="862.20" stroke="#000" stroke-width="3.5" stroke-linecap="round"/>
<line x1="81.15" y1="587.50" x2="93.35" y2="587.50" stroke="#000" stroke-width="3.5" stroke-linecap="round"/>
<line x1="81.15" y1="724.90" x2="93.35" y2="724.90" stroke="#000" stroke-width="3.5" stroke-linecap="round"/>
<text transform="translate(72.90,593.60) scale(1,1.02)" text-anchor="end" font-size="20.8">100</text>
<text transform="translate(72.90,731.00) scale(1,1.02)" text-anchor="end" font-size="20.8">50</text>
<text transform="translate(72.90,867.70) scale(1,1.02)" text-anchor="end" font-size="20.8">0</text>
<text transform="translate(95.00,900.90) scale(1,1.02)" text-anchor="middle" font-size="20.8">0</text>
<line x1="149.90" y1="863.95" x2="149.90" y2="876.05" stroke="#000" stroke-width="3.5" stroke-linecap="round"/>
<text transform="translate(151.40,900.90) scale(1,1.02)" text-anchor="middle" font-size="20.8">10</text>
<line x1="205.00" y1="863.95" x2="205.00" y2="876.05" stroke="#000" stroke-width="3.5" stroke-linecap="round"/>
<text transform="translate(204.70,900.90) scale(1,1.02)" text-anchor="middle" font-size="20.8">20</text>
<line x1="259.60" y1="863.95" x2="259.60" y2="876.05" stroke="#000" stroke-width="3.5" stroke-linecap="round"/>
<text transform="translate(260.10,900.90) scale(1,1.02)" text-anchor="middle" font-size="20.8">30</text>
<line x1="314.20" y1="863.95" x2="314.20" y2="876.05" stroke="#000" stroke-width="3.5" stroke-linecap="round"/>
<text transform="translate(314.30,900.90) scale(1,1.02)" text-anchor="middle" font-size="20.8">40</text>
<line x1="369.40" y1="863.95" x2="369.40" y2="876.05" stroke="#000" stroke-width="3.5" stroke-linecap="round"/>
<text transform="translate(369.40,900.90) scale(1,1.02)" text-anchor="middle" font-size="20.8">50</text>
<line x1="424.40" y1="863.95" x2="424.40" y2="876.05" stroke="#000" stroke-width="3.5" stroke-linecap="round"/>
<text transform="translate(424.90,900.90) scale(1,1.02)" text-anchor="middle" font-size="20.8">60</text>
<text transform="translate(253.30,932.20) scale(1.012,1.02)" text-anchor="middle" font-size="20.8">Temperature (°C)</text>
<text transform="translate(253.40,530.50) scale(1.008,1.02)" text-anchor="middle" font-size="20.8">Temperature profile</text>
<text transform="translate(18.40,702.20) rotate(-90) scale(1,1.02)" text-anchor="middle" font-size="20.8">Relative activity (%)</text>
<text x="-1.20" y="530.70" font-size="42" font-weight="bold" class="pl">d</text>
<polyline points="177.30,784.90 205.10,717.40 232.00,683.70 259.40,591.30 286.70,587.60 314.50,599.80 342.10,770.00 369.40,862.00" fill="none" stroke="#000" stroke-width="1.7" stroke-linejoin="round" stroke-linecap="round"/>
<circle cx="177.30" cy="772.00" r="5.1" fill="#000"/>
<circle cx="177.30" cy="787.80" r="5.1" fill="#000"/>
<circle cx="177.30" cy="794.80" r="5.1" fill="#000"/>
<circle cx="205.10" cy="704.30" r="5.1" fill="#000"/>
<circle cx="205.10" cy="717.00" r="5.1" fill="#000"/>
<circle cx="205.10" cy="730.80" r="5.1" fill="#000"/>
<circle cx="232.00" cy="674.30" r="5.1" fill="#000"/>
<circle cx="232.00" cy="686.30" r="5.1" fill="#000"/>
<circle cx="232.00" cy="690.60" r="5.1" fill="#000"/>
<circle cx="259.40" cy="579.00" r="5.1" fill="#000"/>
<circle cx="259.40" cy="588.30" r="5.1" fill="#000"/>
<circle cx="259.40" cy="606.60" r="5.1" fill="#000"/>
<circle cx="286.70" cy="577.30" r="5.1" fill="#000"/>
<circle cx="286.70" cy="589.00" r="5.1" fill="#000"/>
<circle cx="286.70" cy="596.60" r="5.1" fill="#000"/>
<circle cx="314.50" cy="568.70" r="5.1" fill="#000"/>
<circle cx="314.50" cy="597.10" r="5.1" fill="#000"/>
<circle cx="314.50" cy="633.70" r="5.1" fill="#000"/>
<circle cx="342.10" cy="755.70" r="5.1" fill="#000"/>
<circle cx="342.10" cy="773.50" r="5.1" fill="#000"/>
<circle cx="342.10" cy="780.70" r="5.1" fill="#000"/>
<circle cx="369.40" cy="862.00" r="5.1" fill="#000"/>
<circle cx="396.80" cy="862.00" r="5.1" fill="#000"/>
</g>
<g id="pe">
<line x1="615.90" y1="530.15" x2="615.90" y2="874.55" stroke="#000" stroke-width="3.5" stroke-linecap="round"/>
<line x1="602.45" y1="860.80" x2="945.95" y2="860.80" stroke="#000" stroke-width="3.5" stroke-linecap="round"/>
<line x1="602.55" y1="585.80" x2="614.15" y2="585.80" stroke="#000" stroke-width="3.5" stroke-linecap="round"/>
<line x1="602.55" y1="723.10" x2="614.15" y2="723.10" stroke="#000" stroke-width="3.5" stroke-linecap="round"/>
<text transform="translate(593.70,592.80) scale(1,1.02)" text-anchor="end" font-size="20.8">100</text>
<text transform="translate(593.70,730.10) scale(1,1.02)" text-anchor="end" font-size="20.8">50</text>
<text transform="translate(593.70,867.70) scale(1,1.02)" text-anchor="end" font-size="20.8">0</text>
<text transform="translate(617.00,900.90) scale(1,1.02)" text-anchor="middle" font-size="20.8">0</text>
<line x1="670.60" y1="862.55" x2="670.60" y2="874.55" stroke="#000" stroke-width="3.5" stroke-linecap="round"/>
<text transform="translate(672.30,900.90) scale(1,1.02)" text-anchor="middle" font-size="20.8">10</text>
<line x1="725.50" y1="862.55" x2="725.50" y2="874.55" stroke="#000" stroke-width="3.5" stroke-linecap="round"/>
<text transform="translate(726.00,900.90) scale(1,1.02)" text-anchor="middle" font-size="20.8">20</text>
<line x1="780.40" y1="862.55" x2="780.40" y2="874.55" stroke="#000" stroke-width="3.5" stroke-linecap="round"/>
<text transform="translate(780.70,900.90) scale(1,1.02)" text-anchor="middle" font-size="20.8">30</text>
<line x1="835.30" y1="862.55" x2="835.30" y2="874.55" stroke="#000" stroke-width="3.5" stroke-linecap="round"/>
<text transform="translate(835.60,900.90) scale(1,1.02)" text-anchor="middle" font-size="20.8">40</text>
<line x1="890.70" y1="862.55" x2="890.70" y2="874.55" stroke="#000" stroke-width="3.5" stroke-linecap="round"/>
<text transform="translate(890.50,900.90) scale(1,1.02)" text-anchor="middle" font-size="20.8">50</text>
<line x1="945.10" y1="862.55" x2="945.10" y2="874.55" stroke="#000" stroke-width="3.5" stroke-linecap="round"/>
<text transform="translate(945.40,900.90) scale(1,1.02)" text-anchor="middle" font-size="20.8">60</text>
<text transform="translate(774.50,932.20) scale(1.012,1.02)" text-anchor="middle" font-size="20.8">Temperature (°C)</text>
<text transform="translate(774.90,530.50) scale(1,1.02)" text-anchor="middle" font-size="20.8">Heat stability</text>
<text transform="translate(543.30,702.00) rotate(-90) scale(1,1.02)" text-anchor="middle" font-size="20.8">Relative activity (%)</text>
<text x="499.80" y="530.50" font-size="42" font-weight="bold" class="pl">e</text>
<polyline points="638.20,585.80 753.10,592.80 780.40,614.10 808.00,629.20 835.30,774.00 862.90,860.50" fill="none" stroke="#000" stroke-width="1.7" stroke-linejoin="round" stroke-linecap="round"/>
<circle cx="638.20" cy="578.30" r="5.1" fill="#000"/>
<circle cx="638.20" cy="602.10" r="5.1" fill="#000"/>
<circle cx="753.10" cy="576.50" r="5.1" fill="#000"/>
<circle cx="753.10" cy="588.50" r="5.1" fill="#000"/>
<circle cx="753.10" cy="612.90" r="5.1" fill="#000"/>
<circle cx="780.40" cy="598.30" r="5.1" fill="#000"/>
<circle cx="780.40" cy="600.80" r="5.1" fill="#000"/>
<circle cx="780.40" cy="642.20" r="5.1" fill="#000"/>
<circle cx="808.00" cy="618.40" r="5.1" fill="#000"/>
<circle cx="808.00" cy="633.40" r="5.1" fill="#000"/>
<circle cx="808.00" cy="637.20" r="5.1" fill="#000"/>
<circle cx="835.30" cy="757.70" r="5.1" fill="#000"/>
<circle cx="835.30" cy="765.90" r="5.1" fill="#000"/>
<circle cx="835.30" cy="801.60" r="5.1" fill="#000"/>
<circle cx="862.90" cy="860.50" r="5.1" fill="#000"/>
<circle cx="890.70" cy="860.50" r="5.1" fill="#000"/>
<circle cx="918.10" cy="860.50" r="5.1" fill="#000"/>
<circle cx="945.10" cy="860.50" r="5.1" fill="#000"/>
</g>
<g id="pf">
<line x1="1125.50" y1="531.55" x2="1125.50" y2="875.05" stroke="#000" stroke-width="3.5" stroke-linecap="round"/>
<line x1="1111.45" y1="861.60" x2="1455.15" y2="861.60" stroke="#000" stroke-width="3.5" stroke-linecap="round"/>
<line x1="1111.75" y1="795.60" x2="1123.75" y2="795.60" stroke="#000" stroke-width="3.5" stroke-linecap="round"/>
<line x1="1111.75" y1="729.60" x2="1123.75" y2="729.60" stroke="#000" stroke-width="3.5" stroke-linecap="round"/>
<line x1="1111.75" y1="663.60" x2="1123.75" y2="663.60" stroke="#000" stroke-width="3.5" stroke-linecap="round"/>
<line x1="1111.75" y1="597.60" x2="1123.75" y2="597.60" stroke="#000" stroke-width="3.5" stroke-linecap="round"/>
<line x1="1111.75" y1="531.60" x2="1123.75" y2="531.60" stroke="#000" stroke-width="3.5" stroke-linecap="round"/>
<text transform="translate(1103.40,802.60) scale(1,1.02)" text-anchor="end" font-size="20.8">5</text>
<text transform="translate(1103.40,736.60) scale(1,1.02)" text-anchor="end" font-size="20.8">10</text>
<text transform="translate(1103.40,670.60) scale(1,1.02)" text-anchor="end" font-size="20.8">15</text>
<text transform="translate(1103.40,604.60) scale(1,1.02)" text-anchor="end" font-size="20.8">20</text>
<text transform="translate(1103.40,538.60) scale(1,1.02)" text-anchor="end" font-size="20.8">25</text>
<text transform="translate(1103.40,868.20) scale(1,1.02)" text-anchor="end" font-size="20.8">0</text>
<line x1="1198.40" y1="863.35" x2="1198.40" y2="875.05" stroke="#000" stroke-width="3.5" stroke-linecap="round"/>
<line x1="1271.30" y1="863.35" x2="1271.30" y2="875.05" stroke="#000" stroke-width="3.5" stroke-linecap="round"/>
<line x1="1344.20" y1="863.35" x2="1344.20" y2="875.05" stroke="#000" stroke-width="3.5" stroke-linecap="round"/>
<line x1="1417.10" y1="863.35" x2="1417.10" y2="875.05" stroke="#000" stroke-width="3.5" stroke-linecap="round"/>
<text transform="translate(1126.10,900.80) scale(1,1.02)" text-anchor="middle" font-size="20.8">0</text>
<text transform="translate(1198.50,900.80) scale(1,1.02)" text-anchor="middle" font-size="20.8">2</text>
<text transform="translate(1271.40,900.80) scale(1,1.02)" text-anchor="middle" font-size="20.8">4</text>
<text transform="translate(1344.30,900.80) scale(1,1.02)" text-anchor="middle" font-size="20.8">6</text>
<text transform="translate(1417.20,900.80) scale(1,1.02)" text-anchor="middle" font-size="20.8">8</text>
<text transform="translate(1283.70,932.40) scale(1,1.02)" text-anchor="middle" font-size="20.8">[VemG] (µM)</text>
<text transform="translate(1284.30,530.50) scale(1,1.02)" text-anchor="middle" font-size="20.8">Enzyme concentration</text>
<text transform="translate(1058.00,703.50) rotate(-90) scale(1,1.02)" text-anchor="middle" font-size="20.8">µM product min<tspan font-size="13" dy="-7.5">−1</tspan><tspan dy="7.5"> µM VemH</tspan><tspan font-size="13" dy="-7.5">−1</tspan></text>
<text x="1030.60" y="530.20" font-size="42" font-weight="bold" class="pl">f</text>
<polyline points="1125.50,861.60 1127.32,856.86 1129.14,852.21 1130.97,847.65 1132.79,843.17 1134.61,838.78 1136.43,834.47 1138.26,830.23 1140.08,826.08 1141.90,822.00 1143.72,817.99 1145.55,814.06 1147.37,810.19 1149.19,806.39 1151.02,802.66 1152.84,798.98 1154.66,795.38 1156.48,791.83 1158.31,788.34 1160.13,784.91 1161.95,781.53 1163.77,778.21 1165.60,774.95 1167.42,771.73 1169.24,768.57 1171.06,765.46 1172.88,762.39 1174.71,759.38 1176.53,756.41 1178.35,753.48 1180.17,750.60 1182.00,747.76 1183.82,744.97 1185.64,742.21 1187.46,739.50 1189.29,736.83 1191.11,734.19 1192.93,731.59 1194.76,729.03 1196.58,726.51 1198.40,724.02 1200.22,721.57 1202.05,719.15 1203.87,716.76 1205.69,714.41 1207.51,712.09 1209.34,709.80 1211.16,707.54 1212.98,705.31 1214.80,703.11 1216.62,700.94 1218.45,698.80 1220.27,696.69 1222.09,694.60 1223.91,692.54 1225.74,690.50 1227.56,688.50 1229.38,686.51 1231.20,684.56 1233.03,682.62 1234.85,680.71 1236.67,678.82 1238.50,676.96 1240.32,675.12 1242.14,673.30 1243.96,671.50 1245.79,669.73 1247.61,667.97 1249.43,666.24 1251.25,664.53 1253.08,662.83 1254.90,661.16 1256.72,659.50 1258.54,657.87 1260.37,656.25 1262.19,654.65 1264.01,653.07 1265.83,651.51 1267.65,649.96 1269.48,648.43 1271.30,646.92 1273.12,645.42 1274.94,643.94 1276.77,642.48 1278.59,641.03 1280.41,639.60 1282.24,638.18 1284.06,636.78 1285.88,635.39 1287.70,634.02 1289.53,632.66 1291.35,631.32 1293.17,629.99 1294.99,628.67 1296.82,627.37 1298.64,626.08 1300.46,624.80 1302.28,623.54 1304.11,622.28 1305.93,621.04 1307.75,619.82 1309.57,618.60 1311.39,617.40 1313.22,616.21 1315.04,615.03 1316.86,613.86 1318.68,612.70 1320.51,611.56 1322.33,610.42 1324.15,609.30 1325.97,608.18 1327.80,607.08 1329.62,605.99 1331.44,604.91 1333.27,603.83 1335.09,602.77 1336.91,601.72 1338.73,600.67 1340.56,599.64 1342.38,598.62 1344.20,597.60 1346.02,596.59 1347.85,595.60 1349.67,594.61 1351.49,593.63 1353.31,592.66 1355.13,591.69 1356.96,590.74 1358.78,589.79 1360.60,588.86 1362.42,587.93 1364.25,587.01 1366.07,586.09 1367.89,585.19 1369.72,584.29 1371.54,583.40 1373.36,582.51 1375.18,581.64 1377.01,580.77 1378.83,579.91 1380.65,579.05 1382.47,578.21 1384.30,577.37 1386.12,576.53 1387.94,575.71 1389.76,574.89 1391.59,574.07 1393.41,573.27 1395.23,572.47 1397.05,571.67 1398.88,570.89 1400.70,570.10 1402.52,569.33 1404.34,568.56 1406.16,567.80 1407.99,567.04 1409.81,566.29 1411.63,565.54 1413.45,564.80 1415.28,564.07 1417.10,563.34" fill="none" stroke="#000" stroke-width="1.7" stroke-linejoin="round" stroke-linecap="round"/>
<circle cx="1129.60" cy="857.60" r="5.1" fill="#000"/>
<circle cx="1136.10" cy="840.40" r="5.1" fill="#000"/>
<circle cx="1136.10" cy="844.90" r="5.1" fill="#000"/>
<circle cx="1143.40" cy="831.10" r="5.1" fill="#000"/>
<circle cx="1143.40" cy="838.40" r="5.1" fill="#000"/>
<circle cx="1161.70" cy="791.50" r="5.1" fill="#000"/>
<circle cx="1161.70" cy="795.30" r="5.1" fill="#000"/>
<circle cx="1161.70" cy="802.30" r="5.1" fill="#000"/>
<circle cx="1198.30" cy="716.80" r="5.1" fill="#000"/>
<circle cx="1198.30" cy="727.10" r="5.1" fill="#000"/>
<circle cx="1198.30" cy="733.90" r="5.1" fill="#000"/>
<circle cx="1235.10" cy="662.50" r="5.1" fill="#000"/>
<circle cx="1235.10" cy="673.80" r="5.1" fill="#000"/>
<circle cx="1235.10" cy="676.80" r="5.1" fill="#000"/>
<circle cx="1307.70" cy="605.80" r="5.1" fill="#000"/>
<circle cx="1307.70" cy="610.00" r="5.1" fill="#000"/>
<circle cx="1307.70" cy="613.00" r="5.1" fill="#000"/>
<circle cx="1417.50" cy="564.00" r="5.1" fill="#000"/>
<circle cx="1417.50" cy="574.80" r="5.1" fill="#000"/>
<circle cx="1417.50" cy="584.00" r="5.1" fill="#000"/>
<text transform="translate(1487.50,740.10) scale(1,1.02)" text-anchor="end" font-size="20.8"><tspan font-style="italic">K</tspan><tspan font-size="14" dy="3">d</tspan><tspan dy="-3"> = 5.1 µM</tspan></text>
<text transform="translate(1485.50,777.00) scale(1,1.02)" text-anchor="end" font-size="20.8" word-spacing="0.6">Turnover rate = 37 min<tspan font-size="13" dy="-7.5">−1</tspan></text>
</g>
<g id="pg">
<line x1="1669.60" y1="531.75" x2="1669.60" y2="864.15" stroke="#000" stroke-width="3.5" stroke-linecap="round"/>
<line x1="1655.55" y1="862.60" x2="1950.85" y2="862.60" stroke="#000" stroke-width="3.5" stroke-linecap="round"/>
<line x1="1656.05" y1="588.20" x2="1667.85" y2="588.20" stroke="#000" stroke-width="3.5" stroke-linecap="round"/>
<line x1="1656.05" y1="725.20" x2="1667.85" y2="725.20" stroke="#000" stroke-width="3.5" stroke-linecap="round"/>
<text transform="translate(1647.20,595.70) scale(1,1.02)" text-anchor="end" font-size="20.8">100</text>
<text transform="translate(1647.20,732.70) scale(1,1.02)" text-anchor="end" font-size="20.8">50</text>
<text transform="translate(1647.20,869.10) scale(1,1.02)" text-anchor="end" font-size="20.8">0</text>
<text transform="translate(1803.40,530.80) scale(1.01,1.02)" text-anchor="middle" font-size="20.8">Primer unit</text>
<text transform="translate(1594.30,710.00) rotate(-90) scale(1,1.02)" text-anchor="middle" font-size="20.8">Relative activity (%)</text>
<text x="1557.20" y="530.00" font-size="42" font-weight="bold" class="pl">g</text>
<rect x="1709.00" y="588.40" width="69" height="274.20" fill="#fff" stroke="#000" stroke-width="3.5"/>
<rect x="1840.60" y="724.80" width="69" height="137.80" fill="#fff" stroke="#000" stroke-width="3.5"/>
<line x1="1743.30" y1="572.70" x2="1743.30" y2="598.80" stroke="#000" stroke-width="1.7" stroke-linecap="butt"/>
<line x1="1724.30" y1="572.70" x2="1762.30" y2="572.70" stroke="#000" stroke-width="1.7" stroke-linecap="butt"/>
<line x1="1724.30" y1="598.80" x2="1762.30" y2="598.80" stroke="#000" stroke-width="1.7" stroke-linecap="butt"/>
<circle cx="1743.30" cy="570.60" r="5.1" fill="#000"/>
<circle cx="1733.40" cy="594.00" r="5.1" fill="#000"/>
<circle cx="1752.90" cy="593.20" r="5.1" fill="#000"/>
<line x1="1875.30" y1="718.20" x2="1875.30" y2="726.00" stroke="#000" stroke-width="1.7" stroke-linecap="butt"/>
<line x1="1856.30" y1="718.20" x2="1894.30" y2="718.20" stroke="#000" stroke-width="1.7" stroke-linecap="butt"/>
<line x1="1856.30" y1="726.00" x2="1894.30" y2="726.00" stroke="#000" stroke-width="1.7" stroke-linecap="butt"/>
<circle cx="1875.30" cy="717.90" r="5.1" fill="#000"/>
<circle cx="1854.60" cy="726.80" r="5.1" fill="#000"/>
<circle cx="1894.40" cy="721.50" r="5.1" fill="#000"/>
<line x1="1655.55" y1="862.60" x2="1950.85" y2="862.60" stroke="#000" stroke-width="3.5" stroke-linecap="round"/>
<text transform="translate(1735.80,887.70) scale(1,1.02)" text-anchor="middle" font-size="20.8">3,5-dihydroxy-</text>
<text transform="translate(1736.10,912.80) scale(1,1.02)" text-anchor="middle" font-size="20.8">benzoic acid</text>
<text transform="translate(1872.50,887.70) scale(1,1.02)" text-anchor="middle" font-size="20.8">3-hydroxy-</text>
<text transform="translate(1872.90,912.80) scale(1,1.02)" text-anchor="middle" font-size="20.8">benzoic acid</text>
</g>
</svg>
</body>
</html>
